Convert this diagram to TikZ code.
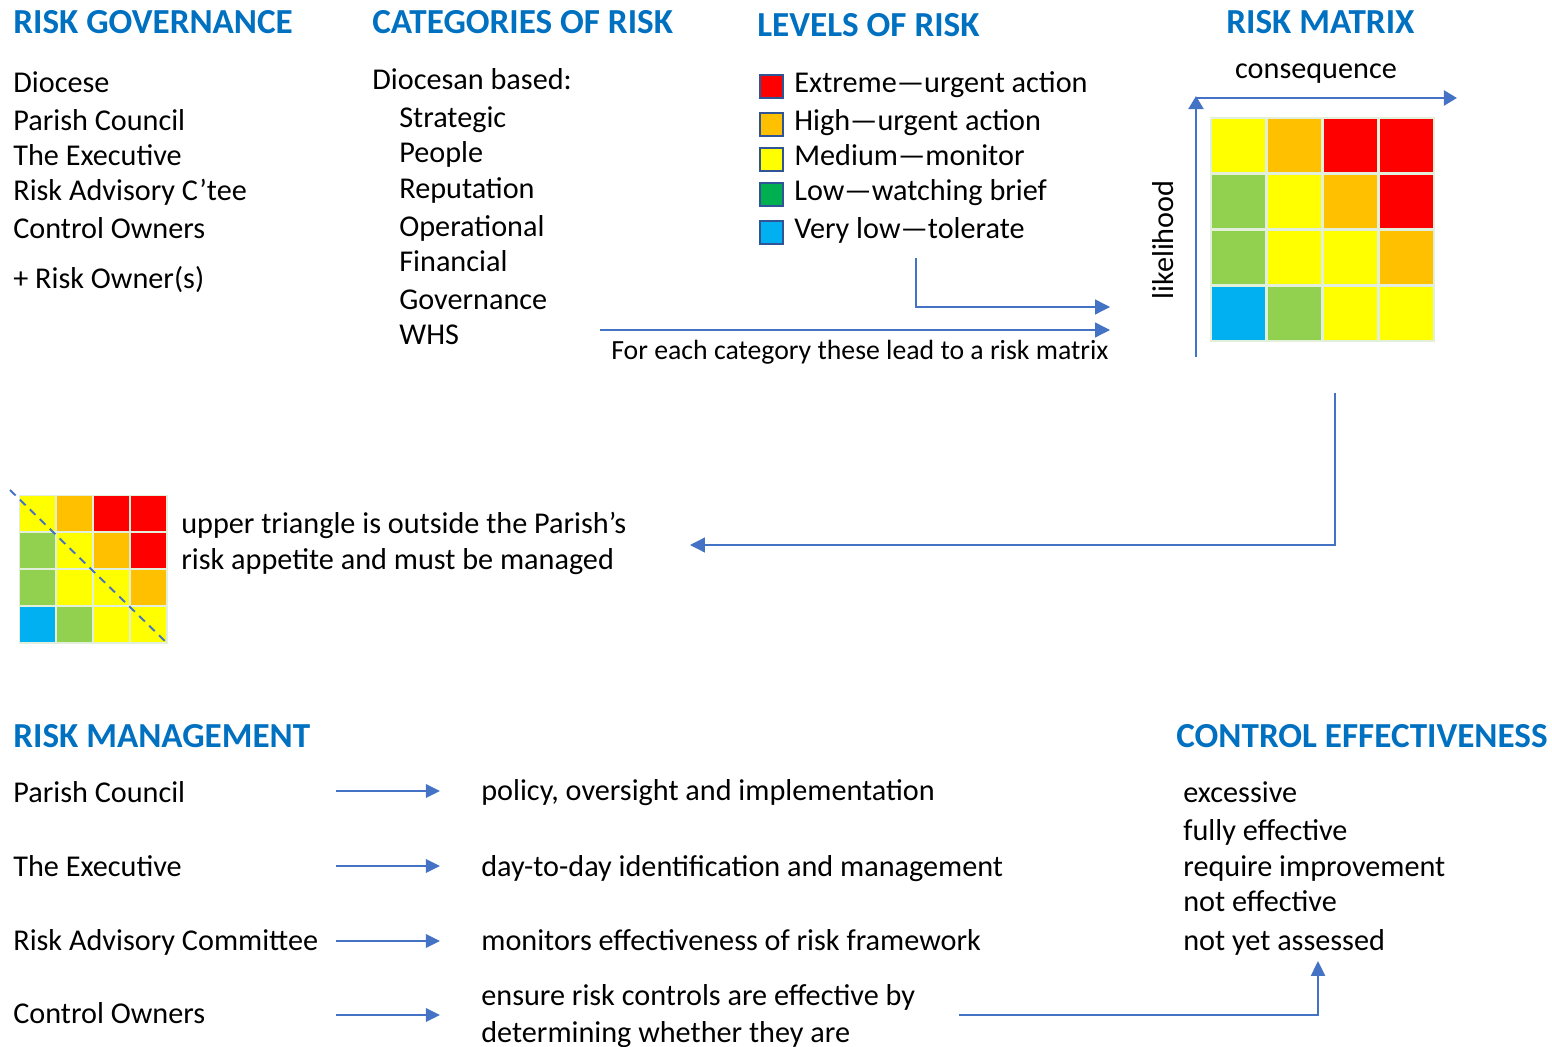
\documentclass[tikz,border=0pt]{standalone}
\usepackage{fontspec}
\setmainfont{Carlito}
\usepackage{xcolor}
\usetikzlibrary{arrows.meta}

\definecolor{headblue}{HTML}{0070C0}
\definecolor{arrowblue}{HTML}{4472C4}
\definecolor{boxblue}{HTML}{2F5597}
\definecolor{riskred}{HTML}{FF0000}
\definecolor{riskorange}{HTML}{FFC000}
\definecolor{riskyellow}{HTML}{FFFF00}
\definecolor{riskgreen}{HTML}{00B050}
\definecolor{risklime}{HTML}{92D050}
\definecolor{riskblue}{HTML}{00B0F0}
\definecolor{gridline}{HTML}{E2EFDA}

\tikzset{
  heading/.style={anchor=base west, inner sep=0pt, text=headblue, font=\fontsize{20}{24}\selectfont\bfseries},
  body/.style={anchor=base west, inner sep=0pt, font=\fontsize{17.2}{20}\selectfont},
  note/.style={anchor=base west, inner sep=0pt, font=\fontsize{15.8}{19}\selectfont},
  legbox/.style={draw=boxblue, line width=0.9pt},
  thinarrow/.style={draw=arrowblue, line width=0.75pt, -{Triangle[length=8.5pt, width=8.5pt]}},
  axisarrow/.style={draw=arrowblue, line width=1.6pt, -{Triangle[length=7.5pt, width=8.5pt]}},
  mgmtarrow/.style={draw=arrowblue, line width=1.6pt, -{Triangle[length=8pt, width=7.5pt]}},
  elbowarrow/.style={draw=arrowblue, line width=1.2pt, -{Triangle[length=8.5pt, width=8pt]}},
  diag/.style={draw=arrowblue, line width=1.1pt, dash pattern=on 4.5pt off 3.4pt}
}

\begin{document}
\begin{tikzpicture}[x=0.02cm, y=-0.02cm]
  \useasboundingbox (0,0) rectangle (1552,1047);

  \node[heading] (hGov) at (13,34) {RISK GOVERNANCE};
  \node[heading] (hCat) at (372,34) {CATEGORIES OF RISK};
  \node[heading] (hLev) at (757,37) {LEVELS OF RISK};
  \node[heading] (hMat) at (1226,34) {RISK MATRIX};
  \node[heading] (hMan) at (13,747) {RISK MANAGEMENT};
  \node[heading] (hCtl) at (1176,747) {CONTROL EFFECTIVENESS};

  \node[body] (govDiocese) at (13,93) {Diocese};
  \node[body] (govCouncil) at (13,131) {Parish Council};
  \node[body] (govExec) at (13,166) {The Executive};
  \node[body] (govAdvisory) at (13,201) {Risk Advisory C’tee};
  \node[body] (govControl) at (13,239) {Control Owners};
  \node[body] (govOwner) at (13,289) {+ Risk Owner(s)};

  \node[body] (catBased) at (372,90) {Diocesan based:};
  \node[body] (catStrategic) at (399,128) {Strategic};
  \node[body] (catPeople) at (399,163) {People};
  \node[body] (catReputation) at (399,199) {Reputation};
  \node[body] (catOperational) at (399,237) {Operational};
  \node[body] (catFinancial) at (399,272) {Financial};
  \node[body] (catGovernance) at (399,310) {Governance};
  \node[body] (catWHS) at (399,345) {WHS};

  \draw[legbox, fill=riskred] (760,75) rectangle (783,98);
  \draw[legbox, fill=riskorange] (760,113) rectangle (783,136);
  \draw[legbox, fill=riskyellow] (760,148) rectangle (783,171);
  \draw[legbox, fill=riskgreen] (760,183) rectangle (783,206);
  \draw[legbox, fill=riskblue] (760,221) rectangle (783,244);
  \node[body] (levExtreme) at (794,93) {Extreme—urgent action};
  \node[body] (levHigh) at (794,131) {High—urgent action};
  \node[body] (levMedium) at (794,166) {Medium—monitor};
  \node[body] (levLow) at (794,201) {Low—watching brief};
  \node[body] (levVeryLow) at (794,239) {Very low—tolerate};

  \coordinate (levDrop) at (916,258);
  \coordinate (levCorner) at (916,307);
  \coordinate (levEnd) at (1110,307);
  \draw[thinarrow] (levDrop) -- (levCorner) -- (levEnd);
  \coordinate (catStart) at (600,330);
  \coordinate (catEnd) at (1110,330);
  \draw[thinarrow] (catStart) -- (catEnd);
  \node[note] (leadNote) at (611,360) {For each category these lead to a risk matrix};

  \node[body, anchor=base] (mtxCons) at (1316,79) {consequence};
  \node[body, anchor=base, rotate=90] (mtxLike) at (1173,240) {likelihood};
  \coordinate (axBottom) at (1196,357);
  \coordinate (axTop) at (1196,96);
  \coordinate (axCorner) at (1196,98);
  \coordinate (axRight) at (1457,98);
  \draw[axisarrow] (axBottom) -- (axTop);
  \draw[axisarrow] (axCorner) -- (axRight);

  \fill[gridline] (1210,117) rectangle (1435,342);
  \fill[riskyellow] (1212,119) rectangle +(53,53);
  \fill[riskorange] (1268,119) rectangle +(53,53);
  \fill[riskred] (1324,119) rectangle +(53,53);
  \fill[riskred] (1380,119) rectangle +(53,53);
  \fill[risklime] (1212,175) rectangle +(53,53);
  \fill[riskyellow] (1268,175) rectangle +(53,53);
  \fill[riskorange] (1324,175) rectangle +(53,53);
  \fill[riskred] (1380,175) rectangle +(53,53);
  \fill[risklime] (1212,231) rectangle +(53,53);
  \fill[riskyellow] (1268,231) rectangle +(53,53);
  \fill[riskyellow] (1324,231) rectangle +(53,53);
  \fill[riskorange] (1380,231) rectangle +(53,53);
  \fill[riskblue] (1212,287) rectangle +(53,53);
  \fill[risklime] (1268,287) rectangle +(53,53);
  \fill[riskyellow] (1324,287) rectangle +(53,53);
  \fill[riskyellow] (1380,287) rectangle +(53,53);

  \coordinate (mtxDrop) at (1335,393);
  \coordinate (mtxCorner) at (1335,545);
  \coordinate (triEnd) at (690,545);
  \draw[thinarrow] (mtxDrop) -- (mtxCorner) -- (triEnd);

  \fill[gridline] (18.5,494.5) rectangle (167.5,644);
  \fill[riskyellow] (20,496) rectangle +(35,35);
  \fill[riskorange] (57,496) rectangle +(35,35);
  \fill[riskred] (94,496) rectangle +(35,35);
  \fill[riskred] (131,496) rectangle +(35,35);
  \fill[risklime] (20,533) rectangle +(35,35);
  \fill[riskyellow] (57,533) rectangle +(35,35);
  \fill[riskorange] (94,533) rectangle +(35,35);
  \fill[riskred] (131,533) rectangle +(35,35);
  \fill[risklime] (20,570) rectangle +(35,35);
  \fill[riskyellow] (57,570) rectangle +(35,35);
  \fill[riskyellow] (94,570) rectangle +(35,35);
  \fill[riskorange] (131,570) rectangle +(35,35);
  \fill[riskblue] (20,607) rectangle +(35,35);
  \fill[risklime] (57,607) rectangle +(35,35);
  \fill[riskyellow] (94,607) rectangle +(35,35);
  \fill[riskyellow] (131,607) rectangle +(35,35);
  \coordinate (diagStart) at (10,490);
  \coordinate (diagEnd) at (169,645);
  \draw[diag] (diagStart) -- (diagEnd);
  \node[body] (triLineA) at (181,533) {upper triangle is outside the Parish’s};
  \node[body] (triLineB) at (181,569) {risk appetite and must be managed};

  \node[body] (manCouncil) at (13,802) {Parish Council};
  \node[body] (manExec) at (13,876) {The Executive};
  \node[body] (manAdvisory) at (13,950) {Risk Advisory Committee};
  \node[body] (manControl) at (13,1023) {Control Owners};
  \node[body] (dutyCouncil) at (481,800) {policy, oversight and implementation};
  \node[body] (dutyExec) at (481,876) {day-to-day identification and management};
  \node[body] (dutyAdvisory) at (481,950) {monitors effectiveness of risk framework};
  \node[body] (dutyControlA) at (481,1005) {ensure risk controls are effective by};
  \node[body] (dutyControlB) at (481,1042) {determining whether they are};

  \coordinate (arCouncilA) at (336,791);
  \coordinate (arCouncilB) at (440,791);
  \coordinate (arExecA) at (336,866);
  \coordinate (arExecB) at (440,866);
  \coordinate (arAdvisoryA) at (336,941);
  \coordinate (arAdvisoryB) at (440,941);
  \coordinate (arControlA) at (336,1015);
  \coordinate (arControlB) at (440,1015);
  \draw[mgmtarrow] (arCouncilA) -- (arCouncilB);
  \draw[mgmtarrow] (arExecA) -- (arExecB);
  \draw[mgmtarrow] (arAdvisoryA) -- (arAdvisoryB);
  \draw[mgmtarrow] (arControlA) -- (arControlB);

  \node[body] (ctlExcessive) at (1183,802) {excessive};
  \node[body] (ctlFully) at (1183,840) {fully effective};
  \node[body] (ctlRequire) at (1183,876) {require improvement};
  \node[body] (ctlNot) at (1183,911) {not effective};
  \node[body] (ctlYet) at (1183,950) {not yet assessed};

  \coordinate (ctlStart) at (959,1015);
  \coordinate (ctlCorner) at (1318,1015);
  \coordinate (ctlEnd) at (1318,961);
  \draw[elbowarrow] (ctlStart) -- (ctlCorner) -- (ctlEnd);
\end{tikzpicture}
\end{document}
